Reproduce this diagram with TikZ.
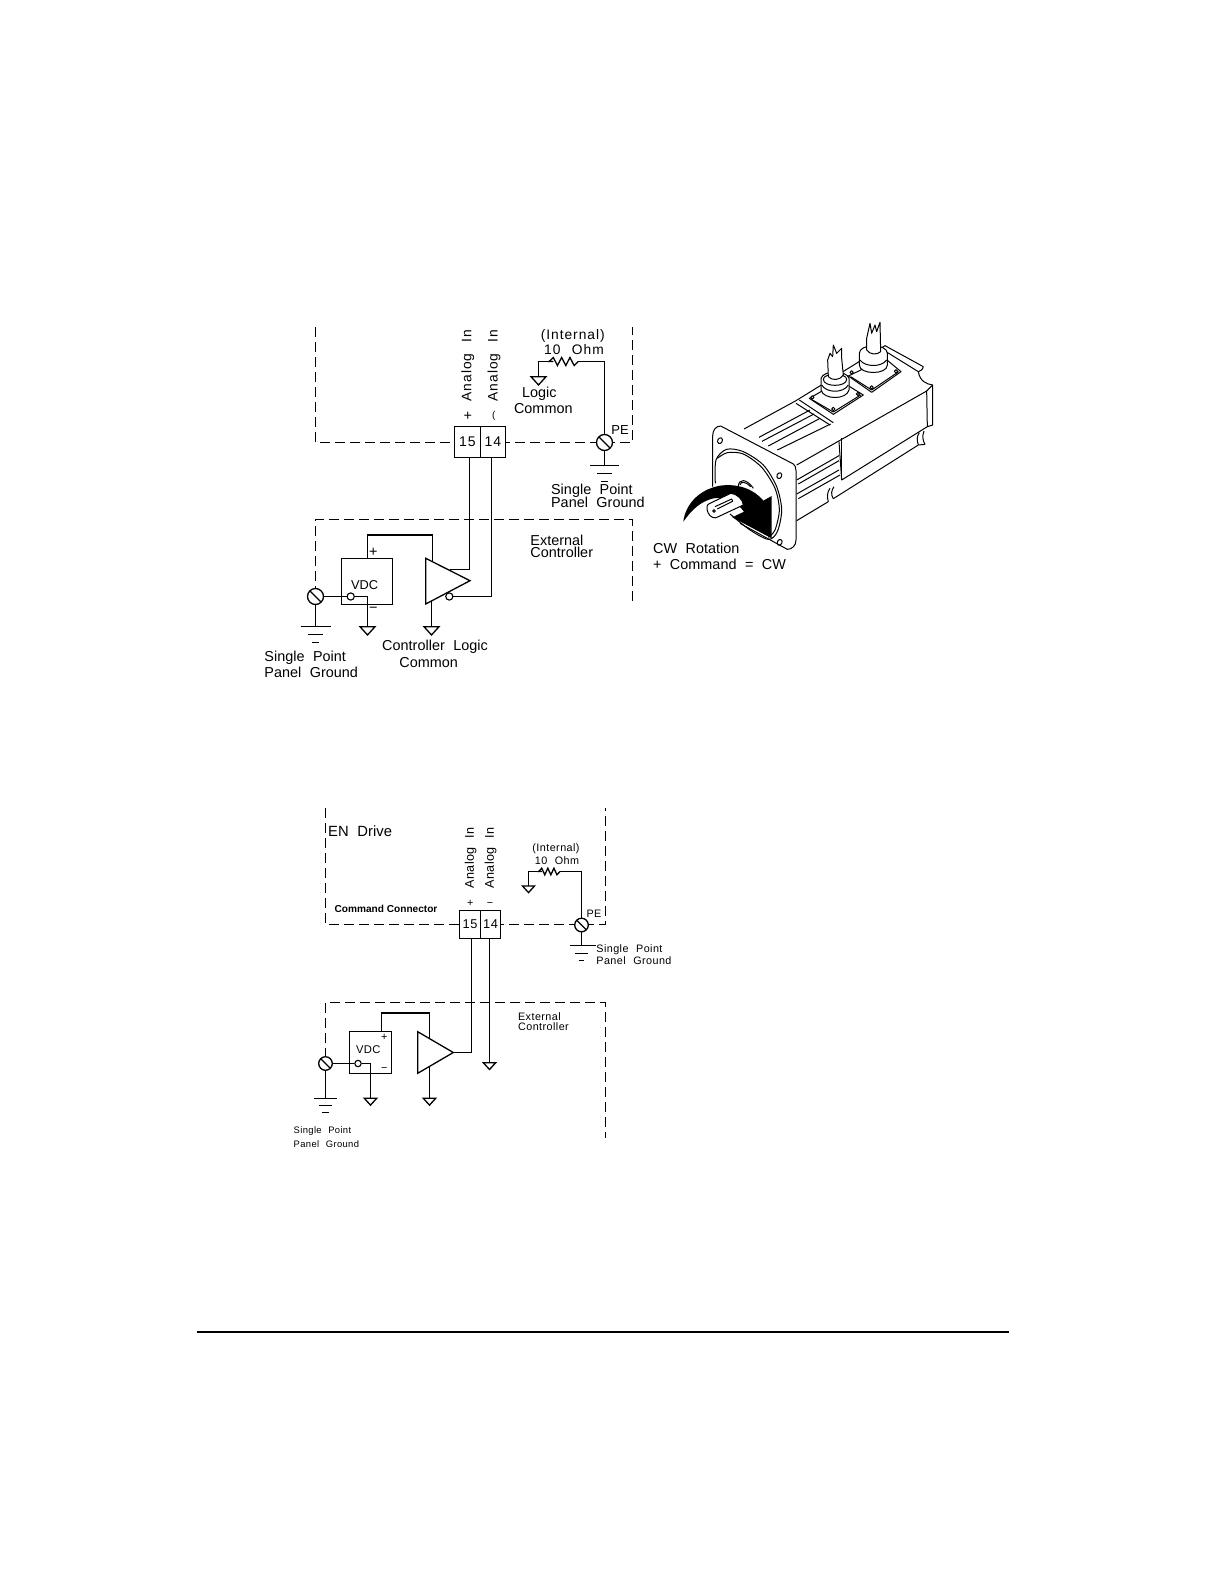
\documentclass[tikz,border=0pt]{standalone}
\usepackage{fontspec}
\setmainfont{Liberation Sans}
\newfontfamily\cadf[LetterSpace=7,WordSpace=2.4]{Liberation Sans}
\newfontfamily\cadm[LetterSpace=0.2,WordSpace=2.1]{Liberation Sans}
\newfontfamily\cadn[LetterSpace=4,WordSpace=2.2]{Liberation Sans}
\tikzset{
  wire/.style={line width=0.65pt,line join=miter},
  dashbox/.style={line width=0.65pt,dash pattern=on 5pt off 2.5pt},
  termbox/.style={draw,line width=0.65pt,fill=white,inner sep=0pt,font=\cadf\fontsize{7}{8}\selectfont},
  screw/.style={draw,circle,line width=0.65pt,fill=white,inner sep=0pt,minimum size=#1,
     path picture={\draw[line width=0.65pt] (path picture bounding box.north west) -- (path picture bounding box.south east);}},
  screw/.default=8pt,
  pin/.style={draw,circle,line width=0.55pt,fill=white,inner sep=0pt,minimum size=3.6pt},
  ampshape/.style={line width=0.65pt,fill=white},
  lab/.style={inner sep=0pt,anchor=west,font=\cadm\fontsize{7.2}{8}\selectfont},
  labc/.style={inner sep=0pt,font=\cadm\fontsize{7.2}{8}\selectfont},
  labw/.style={inner sep=0pt,font=\cadf\fontsize{6.9}{8}\selectfont},
  labs/.style={inner sep=0pt,anchor=west,font=\cadn\fontsize{5.4}{6}\selectfont},
  labsc/.style={inner sep=0pt,font=\cadn\fontsize{5.4}{6}\selectfont},
  mot/.style={line width=0.5pt,line join=round},
  motw/.style={line width=0.5pt,line join=round,fill=white},
}
\newcommand\gndtri[2]{\draw[wire] (#1) ++(-#2,0) -- ++(2*#2,0) -- ++(-#2,1.1*#2) -- cycle;}
\newcommand\earthbars[6]{%
  \draw[wire] (#1) ++(-#2,0) -- ++(2*#2,0);
  \draw[wire] (#1) ++(-#3,#5) -- ++(2*#3,0);
  \draw[wire] (#1) ++(-#4,#6) -- ++(2*#4,0);}
\newcommand\zigzag[2]{-- ++(#1,#2) -- ++(#1,-2*#2) -- ++(#1,2*#2) -- ++(#1,-2*#2) -- ++(#1,2*#2) -- ++(#1,-2*#2) -- ++(#1,#2)}
\begin{document}
\begin{tikzpicture}[x=0.5pt,y=-0.5pt]
\fill[white] (0,0) rectangle (1224,1584);
\useasboundingbox (0,0) rectangle (1224,1584);

%%% ---------- upper schematic ----------
\draw[dashbox] (315.5,327) -- (315.5,442.5) -- (632.5,442.5) -- (632.5,327);
\draw[dashbox] (315.5,596) -- (315.5,519.5) -- (632.5,519.5) -- (632.5,603.5);

\node[termbox,minimum width=13pt,minimum height=15.5pt] (a15) at (467.5,442) {15};
\node[termbox,minimum width=12.5pt,minimum height=15.5pt] (a14) at (493,442) {14};

\node[screw] (aPE) at (604.5,442.5) {};
\node[screw] (aGS) at (315.5,596.5) {};
\coordinate (aGE) at (604.5,465.5);
\coordinate (aGL) at (315.5,626.5);
\draw[wire] (aPE) -- (aGE);
\draw[wire] (aGS) -- (aGL);
\earthbars{aGE}{14.5}{7.2}{3.6}{8}{16}
\earthbars{aGL}{15}{7.5}{3.8}{8}{16}

% internal resistor
\coordinate (aRR) at (578.3,361.5);
\coordinate (aRL) at (553.3,361.5);
\coordinate (aLC) at (538.5,376.7);
\draw[wire] (aPE) |- (aRR);
\draw[wire] (aRR) \zigzag{-4.17}{4} -- (aRL);
\draw[wire] (aRL) -| (aLC);
\gndtri{aLC}{7.5}

% amp and VDC
\coordinate (ampA) at (425.7,558.3);
\coordinate (ampB) at (425.7,604);
\coordinate (ampC) at (470,580.7);
\coordinate (ampIn) at (432.5,561.8);
\coordinate (ampGnd) at (431.5,600.9);
\coordinate (ampOut) at (450,569.5);
\coordinate (ampG) at (431.5,626.7);
\coordinate (vG) at (367.5,626.7);
\node[draw,line width=0.65pt,inner sep=0pt,minimum width=25.5pt,minimum height=23pt] (aV) at (367,581.5) {};
\node[inner sep=0pt,font=\fontsize{6.4}{7}\selectfont] (aVt) at (364.7,585.3) {VDC};
\node[pin] (aVp) at (350.7,596.5) {};
\draw[ampshape] (ampA) -- (ampC) -- (ampB) -- cycle;
\node[pin] (ampN) at (449.3,596.5) {};
\draw[wire] (aV.north -| vG) -- ++(0,-23) -| (ampIn);
\draw[wire] (a15.south -| ampC) ++(-0.5,0) -- (469.5,569.5) -- (ampOut);
\draw[wire] (a14.south -| 491.5,0) -- (491.5,596.5) -- (ampN);
\draw[wire] (aGS) -- (aVp);
\draw[wire] (aVp) -| (vG);
\gndtri{vG}{7.5}
\draw[wire] (ampGnd) -- (ampG);
\gndtri{ampG}{7.5}

\node[labc] (aPlus) at (373.3,552.2) {+};
\node[labc] (aMinus) at (373.3,610) {−};
\node[labw,rotate=90] (aAn1) at (467.7,365.5) {Analog In};
\node[labw,rotate=90] (aAn2) at (494,365.5) {Analog In};
\node[labc] (aP) at (467.7,416) {+};
\node[inner sep=0pt,font=\fontsize{5}{6}\selectfont] (aM) at (493.7,416) {(};
\node[labw] (aInt) at (572.7,335.7) {(Internal)};
\node[labw] (aOhm) at (574,349.3) {10 Ohm};
\node[labc] (aLog) at (539.3,393.3) {Logic};
\node[labc] (aCom) at (543.3,408.3) {Common};
\node[labc,font=\cadm\fontsize{6.5}{7}\selectfont] (aPEt) at (620,430) {PE};
\node[lab] (aSP) at (550.7,491) {Single Point};
\node[lab] (aPG) at (550.7,502.3) {Panel Ground};
\node[lab] (aEx) at (530,540.7) {External};
\node[lab] (aCo) at (530,552.3) {Controller};
\node[lab] (aSP2) at (264,657.3) {Single Point};
\node[lab] (aPG2) at (264,672.7) {Panel Ground};
\node[labc] (aCL) at (435,646.7) {Controller Logic};
\node[labc] (aCC) at (428.7,662.3) {Common};

%%% ---------- motor ----------
\begin{scope}[shift={(640,310)},scale=1/3]
 % body
 \draw[mot] (312,357) -- (468,272) -- (735,107) -- (850,170);
 \draw[mot] (468,280) -- (570,345);
 \draw[mot] (478,270) -- (580,338);
 \draw[mot] (730,120) -- (835,185);
 \draw[mot] (835,185) .. controls (840,215) and (860,222) .. (878,225) -- (878,345) -- (862,350);
 \draw[mot] (850,170) .. controls (848,180) and (840,183) .. (835,185);
 \draw[mot] (860,243) -- (862,350) -- (605,510) -- (597,395);
 \draw[mot] (878,225) -- (860,243) -- (470,465);
 \draw[mot] (605,385) -- (605,510);
 \draw[mot] (357,382) -- (510,300);
 \draw[mot] (366,394) -- (522,312);
 \draw[mot] (385,408) -- (540,325);
 \draw[mot] (412,420) -- (572,342);
 \draw[mot] (470,510) -- (597,437);
 \draw[mot] (475,522) -- (597,452);
 \draw[mot] (470,552) -- (597,480);
 \draw[mot] (475,566) -- (600,495);
 \draw[mot] (470,632) -- (565,575);
 \draw[mot] (580,566) -- (835,405);
 \draw[mot] (565,575) .. controls (560,560) and (562,545) .. (570,535);
 \draw[mot] (580,566) .. controls (572,555) and (574,540) .. (582,530);
 \draw[mot] (855,403) .. controls (850,395) and (845,380) .. (852,363);
 \draw[mot] (835,405) .. controls (830,390) and (830,380) .. (838,368);
 \draw[mot] (835,405) -- (855,403);
 % connector plates
 \draw[motw] (508,265) -- (600,212) -- (670,255) -- (580,313) -- cycle;
 \draw[mot] (514,268) -- (580,306) -- (662,255);
 \draw[motw] (625,198) -- (735,145) -- (783,185) -- (695,247) -- cycle;
 \draw[mot] (632,200) -- (695,240) -- (776,185);
 \foreach \p in {(517,262),(580,297),(654,252),(635,187),(695,232),(768,184)} \draw[motw] \p circle (5);
 % connector 1
 \draw[motw] (543,240) -- (543,205) .. controls (550,180) and (620,180) .. (627,205) -- (627,240) .. controls (620,270) and (550,270) .. (543,240) -- cycle;
 \draw[motw] (550,208) .. controls (550,188) and (620,188) .. (620,208) .. controls (620,232) and (550,232) .. (550,208);
 \draw[mot] (545,225) .. controls (560,250) and (610,250) .. (625,225);
 \draw[motw] (565,200) -- (563,150) -- (570,130) -- (578,140) -- (580,105) -- (590,130) -- (605,115) -- (605,145) -- (610,195) .. controls (600,212) and (575,212) .. (565,200);
 % connector 2
 \draw[motw] (658,165) -- (658,130) .. controls (658,100) and (742,100) .. (742,130) -- (742,165) .. controls (742,195) and (658,195) .. (658,165);
 \draw[mot] (660,150) .. controls (675,172) and (725,172) .. (740,150);
 \draw[motw] (680,120) -- (680,85) -- (690,40) -- (695,70) -- (705,45) -- (710,65) -- (720,37) -- (722,125) .. controls (712,135) and (690,135) .. (680,120);
 % flange (open at lower left, hidden behind the shaft and arrow)
 \draw[motw] (218,530) -- (218,378) .. controls (218,360) and (228,348) .. (242,348) -- (460,462) .. controls (465,465) and (468,472) .. (468,482) -- (468,690) .. controls (468,708) and (455,718) .. (442,718) -- (300,640);
 \draw[mot] plot[smooth] coordinates {(226,520)(228,450)(260,418)(310,425)(370,465)(410,530)(425,600)(412,665)(385,688)(330,660)(270,612)};
 \draw[mot] plot[smooth] coordinates {(232,445)(262,428)(310,432)(365,472)(405,535)(418,600)(405,660)(385,682)};
 \foreach \p in {(240,392),(418,497),(419,697)} \draw[mot,rotate around={-25:\p}] \p ellipse (7 and 9);
 % hub
 \draw[mot] (295,530) .. controls (295,505) and (320,505) .. (340,535);
 \draw[mot] (300,525) .. controls (302,512) and (318,515) .. (332,530);
 % arrow
 \fill[black] (130,635) .. controls (135,590) and (170,540) .. (240,527) .. controls (290,520) and (340,535) .. (370,572) -- (395,558) -- (395,685) -- (277,622) -- (312,605) .. controls (290,575) and (255,560) .. (220,565) .. controls (180,575) and (155,600) .. (130,635) -- cycle;
 % shaft
 \draw[motw] (210,580) -- (272,550) .. controls (290,550) and (310,570) .. (310,585) -- (235,620) .. controls (225,628) and (210,622) .. (204,608) .. controls (198,592) and (200,583) .. (210,580);
 \draw[mot] (225,590) -- (275,567) -- (278,574) -- (232,597);
 \draw[mot] (222,603) circle (4);
\end{scope}
\node[lab] (mT1) at (652.7,548.7) {CW Rotation};
\node[lab] (mT2) at (652.7,564.7) {+ Command = CW};

%%% ---------- lower schematic ----------
\draw[dashbox] (325.5,808.3) -- (325.5,924.5) -- (605.5,924.5) -- (605.5,808.3);
\draw[dashbox] (325.5,1058) -- (325.5,1002.5) -- (605.5,1002.5) -- (605.5,1138.3);

\node[termbox,font=\cadn\fontsize{6.4}{7}\selectfont,minimum width=10.5pt,minimum height=14pt] (b15) at (470,924.5) {15};
\node[termbox,font=\cadn\fontsize{6.4}{7}\selectfont,minimum width=10pt,minimum height=14pt] (b14) at (490.5,924.5) {14};
\node[screw=6.8pt] (bPE) at (581.5,925) {};
\node[screw=6.8pt] (bGS) at (325.5,1063.5) {};
\coordinate (bGE) at (581.5,945.5);
\coordinate (bGL) at (325.5,1098.5);
\draw[wire] (bPE) -- (bGE);
\draw[wire] (bGS) -- (bGL);
\draw[wire] (bGE) ++(11.5,0) -- ++(2.5,0);
\earthbars{bGE}{11.5}{6.2}{2.9}{8}{15}
\earthbars{bGL}{11.2}{6.7}{3.7}{7}{14}

\coordinate (bRR) at (560,871.5);
\coordinate (bRL) at (541.7,871.5);
\coordinate (bLC) at (528.5,886);
\draw[wire] (bPE) |- (bRR);
\draw[wire] (bRR) \zigzag{-3.05}{3.3} -- (bRL);
\draw[wire] (bRL) -| (bLC);
\gndtri{bLC}{6}

\coordinate (bA) at (417.7,1031.7);
\coordinate (bB) at (417.7,1073.3);
\coordinate (bC) at (453.3,1052.5);
\coordinate (bIn) at (429.5,1038.4);
\coordinate (bGnd) at (429.5,1066.5);
\coordinate (bAG) at (429.5,1098.3);
\coordinate (bVG) at (370.5,1098.3);
\coordinate (b14G) at (489.5,1062.7);
\node[draw,line width=0.65pt,inner sep=0pt,minimum width=21pt,minimum height=21pt] (bV) at (370.5,1052.5) {};
\node[inner sep=0pt,font=\cadn\fontsize{5.6}{6}\selectfont] (bVt) at (368.3,1049.3) {VDC};
\node[pin,minimum size=3.2pt] (bVp) at (358,1063.5) {};
\draw[ampshape] (bA) -- (bC) -- (bB) -- cycle;
\draw[wire] (bV.north -| bVG) ++(11,0) -- ++(0,-18) -| (bIn);
\draw[wire] (471.5,938.5) -- (471.5,1052.5) -- (bC);
\draw[wire] (b14G |- b14.south) -- (b14G);
\gndtri{b14G}{6.2}
\draw[wire] (bGS) -- (bVp);
\draw[wire] (bVp) -| (bVG);
\gndtri{bVG}{6.2}
\draw[wire] (bGnd) -- (bAG);
\gndtri{bAG}{6.2}

\node[labsc] (bPlus) at (384.3,1037.3) {+};
\node[labsc] (bMinus) at (384.3,1069) {−};
\node[labsc,rotate=90,font=\cadn\fontsize{6.3}{7}\selectfont] (bAn1) at (470.7,858) {Analog In};
\node[labsc,rotate=90,font=\cadn\fontsize{6.3}{7}\selectfont] (bAn2) at (490.7,858) {Analog In};
\node[labsc] (bP) at (470.3,903.3) {+};
\node[labsc] (bM) at (490,905) {−};
\node[labsc] (bInt) at (556,848.3) {(Internal)};
\node[labsc] (bOhm) at (557,860.7) {10 Ohm};
\node[labsc] (bPEt) at (594,913.3) {PE};
\node[labs] (bSP) at (596,949.3) {Single Point};
\node[labs] (bPG) at (596,960.3) {Panel Ground};
\node[labs] (bEx) at (517.7,1016.7) {External};
\node[labs] (bCo) at (517.7,1027) {Controller};
\node[labs,font=\cadn\fontsize{4.7}{5}\selectfont] (bSP2) at (293.3,1131.3) {Single Point};
\node[labs,font=\cadn\fontsize{4.7}{5}\selectfont] (bPG2) at (293.3,1144) {Panel Ground};
\node[lab,font=\cadm\fontsize{7.4}{8}\selectfont] (bEN) at (327.7,831.3) {EN Drive};
\node[inner sep=0pt,anchor=west,font=\bfseries\fontsize{5.05}{6}\selectfont] (bCC) at (334.3,909) {Command Connector};

%%% rule
\coordinate (ruleL) at (196.7,1332);
\coordinate (ruleR) at (1009,1332);
\draw[line width=1pt] (ruleL) -- (ruleR);
\end{tikzpicture}
\end{document}
